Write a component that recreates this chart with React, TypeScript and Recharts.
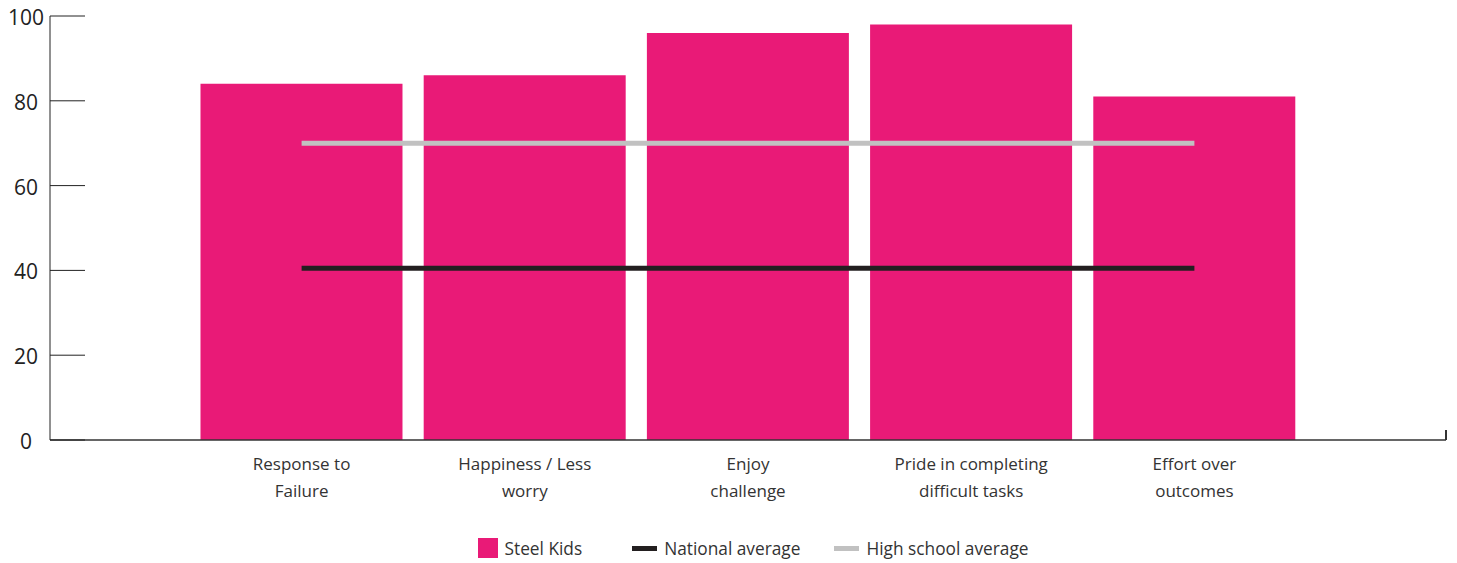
import React from "react";
import {
  Bar,
  ComposedChart,
  Legend,
  Line,
  XAxis,
  YAxis,
} from "recharts";

const categories = [
  "Response to\nFailure",
  "Happiness / Less\nworry",
  "Enjoy\nchallenge",
  "Pride in completing\ndifficult tasks",
  "Effort over\noutcomes",
];
const steelKids = [84, 86, 96, 98, 81];
const nationalAverage = [40.5, 40.5, 40.5, 40.5, 40.5];
const highSchoolAverage = [70, 70, 70, 70, 70];
const yTicks = [0, 20, 40, 60, 80, 100];

const PINK = "#E91A77";
const BLACK = "#231F20";
const GREY = "#C1C1C1";
const FONT = "'Open Sans', sans-serif";

const data = categories.map((name, i) => ({
  name,
  steel: steelKids[i],
  national: nationalAverage[i],
  highSchool: highSchoolAverage[i],
}));

// y ticks: label centred left of the axis, tick line drawn inward
function YTick({ x, y, payload }: { x: number; y: number; payload: { value: number } }) {
  return (
    <g>
      <line x1={x} x2={x + 35} y1={y} y2={y} stroke="#222" strokeWidth={1} />
      <text x={x - 24} y={y + 9} textAnchor="middle" fontSize={21} fill="#222" fontFamily={FONT}>
        {payload.value}
      </text>
    </g>
  );
}

function XTick({ x, y, payload }: { x: number; y: number; payload: { value: string } }) {
  const lines = String(payload.value).split("\n");
  return (
    <text x={x} y={y} textAnchor="middle" fontSize={17} fill="#333" fontFamily={FONT}>
      {lines.map((l, i) => (
        <tspan key={i} x={x} dy={i === 0 ? 30 : 27}>
          {l}
        </tspan>
      ))}
    </text>
  );
}

function ChartLegend() {
  const items = [
    { label: "Steel Kids", kind: "box", color: PINK, gap: 0 },
    { label: "National average", kind: "line", color: BLACK, gap: 50 },
    { label: "High school average", kind: "line", color: GREY, gap: 34 },
  ];
  return (
    <div
      style={{
        display: "flex",
        justifyContent: "center",
        alignItems: "center",
        height: 24,
        fontFamily: FONT,
        fontSize: 17.3,
        color: "#333",
        paddingLeft: 60,
      }}
    >
      {items.map((it) => (
        <div key={it.label} style={{ display: "flex", alignItems: "center", gap: 7, marginLeft: it.gap }}>
          {it.kind === "box" ? (
            <span style={{ width: 20, height: 20, background: it.color, display: "inline-block" }} />
          ) : (
            <span style={{ width: 25, height: 5, background: it.color, display: "inline-block" }} />
          )}
          <span>{it.label}</span>
        </div>
      ))}
    </div>
  );
}

export default function App() {
  return (
    <div style={{ position: "absolute", left: 0, top: 0, width: 1457, height: 563, background: "#fff" }}>
      <ComposedChart
        width={1457}
        height={563}
        data={data}
        margin={{ top: 16, right: 11, bottom: 0, left: 0 }}
        barCategoryGap="4.7%"
      >
        <XAxis
          dataKey="name"
          interval={0}
          padding={{ left: 140, right: 140 }}
          axisLine={{ stroke: "#333", strokeWidth: 1.5 }}
          tickLine={false}
          tickSize={0}
          tickMargin={0}
          height={99}
          tick={(p: any) => <XTick {...p} />}
        />
        <YAxis
          domain={[0, 100]}
          ticks={yTicks}
          width={50}
          axisLine={{ stroke: "#222", strokeWidth: 1 }}
          tickLine={false}
          tickSize={0}
          tickMargin={0}
          tick={(p: any) => <YTick {...p} />}
        />
        <Bar dataKey="steel" name="Steel Kids" fill={PINK} isAnimationActive={false} />
        <Line
          dataKey="national"
          name="National average"
          type="linear"
          stroke={BLACK}
          strokeWidth={5}
          dot={false}
          activeDot={false}
          isAnimationActive={false}
        />
        <Line
          dataKey="highSchool"
          name="High school average"
          type="linear"
          stroke={GREY}
          strokeWidth={5}
          dot={false}
          activeDot={false}
          isAnimationActive={false}
        />
        <Legend verticalAlign="bottom" content={() => <ChartLegend />} wrapperStyle={{ bottom: 3 }} />
      </ComposedChart>
      {/* small upward tick closing the x axis */}
      <div style={{ position: "absolute", left: 1445, top: 430, width: 1.5, height: 10, background: "#333" }} />
    </div>
  );
}
